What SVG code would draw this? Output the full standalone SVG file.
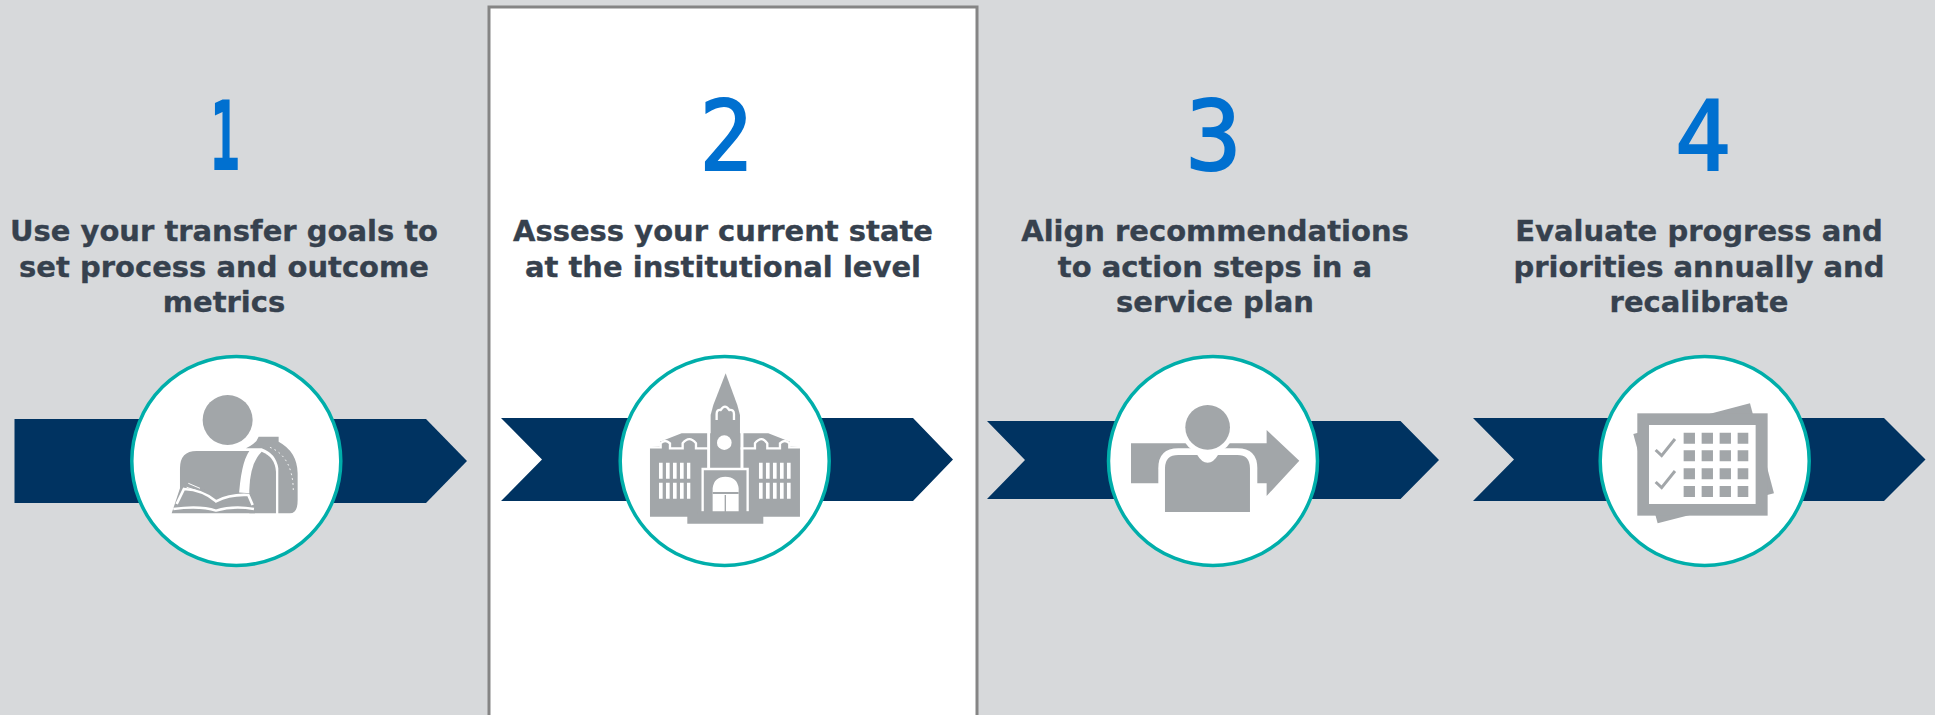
<svg xmlns="http://www.w3.org/2000/svg" width="1935" height="715" viewBox="0 0 1935 715">
<defs>
<filter id="soft" x="-5%" y="-5%" width="110%" height="110%"><feGaussianBlur stdDeviation="0.7"/></filter>
</defs>
<style>
.num{font-family:"DejaVu Sans Mono",monospace;font-size:97px;fill:#0070d0;stroke:#0070d0;stroke-width:2;text-anchor:middle}
.lbl{font-family:"DejaVu Sans",sans-serif;font-weight:700;font-size:29px;fill:#36414e;stroke:#36414e;stroke-width:.35;text-anchor:middle}
.band{fill:#003361}
.disc{fill:#fff;stroke:#00aeaa;stroke-width:3.5}
.ic{fill:#a2a6a9}
.wh{fill:#fff}
.ico{filter:url(#soft)}
</style>
<rect width="1935" height="715" fill="#d7d9db"/>
<rect id="highlight-panel" x="489" y="7" width="488" height="720" fill="#fff" stroke="#858585" stroke-width="3"/>
<g id="connectors">
<polygon class="band" points="14.5,419 426,419 467,461 426,503 14.5,503"/>
<polygon class="band" points="501,418 913,418 953,459.5 913,501 501,501 542,459.5"/>
<polygon class="band" points="987,421 1400.5,421 1439,460 1400.5,499 987,499 1025,460"/>
<polygon class="band" points="1473,418 1884,418 1925.5,459.5 1884,501 1473,501 1514,459.5"/>
</g>
<g id="step-1">
<text class="num" transform="translate(225 170) scale(.52 1)" font-weight="700" style="stroke-width:0">1</text>
<text class="lbl" x="224" y="241">Use your transfer goals to</text>
<text class="lbl" x="224" y="277">set process and outcome</text>
<text class="lbl" x="224" y="312">metrics</text>
<circle class="disc" cx="236.3" cy="461" r="104.5"/>
<g class="ico" transform="translate(0 340) scale(.3333)">
<circle class="ic" cx="683" cy="240" r="75"/>
<path class="ic" d="M540,480V385Q540,333 590,333H748Q722,370 716,480Z"/>
<path class="ic" d="M748,520V450Q750,370 785,335Q825,350 828,395V520Z"/>
<path class="ic" d="M738,325Q770,310 776,290H836V305Q892,335 893,400V480Q893,520 870,520H835V385Q828,340 785,325Z"/>
<path d="M810,322Q878,350 880,450" fill="none" stroke="#fff" stroke-width="3" stroke-dasharray="5 10"/>
<path class="ic" d="M540,445L515,520H765L750,460Z"/>
<path d="M530,492L552,447Q610,450 648,484Q690,462 745,465L758,495" fill="none" stroke="#fff" stroke-width="8"/>
<path d="M520,507Q600,496 648,512Q700,496 762,507" fill="none" stroke="#fff" stroke-width="7"/>
<path d="M565,430L600,445M560,442L590,452" fill="none" stroke="#fff" stroke-width="3"/>
</g>
</g>
<g id="step-2">
<text class="num" transform="translate(726 170) scale(.92 1)">2</text>
<text class="lbl" x="723" y="241">Assess your current state</text>
<text class="lbl" x="723" y="277">at the institutional level</text>
<circle class="disc" cx="724.7" cy="461" r="104.5"/>
<g class="ico" transform="translate(490 340) scale(.3333)">
<path class="ic" d="M480,530V322L510,318V305L575,280H835L900,305V318L930,322V530Z"/>
<path d="M480,322H512V310Q525,296 540,310V325H578V310Q598,285 618,310V325H660M930,322H898V310Q885,296 870,310V325H832V310Q815,285 795,310V325H752" fill="none" stroke="#fff" stroke-width="7"/>
<path d="M656,390V225M756,390V225" fill="none" stroke="#fff" stroke-width="9"/>
<path class="ic" d="M707,100L742,195L750,225V385H662V225L670,195Z"/>
<path d="M680,240V222Q680,208 692,210Q705,190 718,210Q732,208 732,222V240" fill="none" stroke="#fff" stroke-width="7"/>
<circle class="wh" cx="703" cy="308" r="22"/>
<rect class="ic" x="640" y="385" width="134" height="150"/>
<path d="M638,515V387H773V515" fill="none" stroke="#fff" stroke-width="7"/>
<path class="wh" d="M668,518V445Q672,410 706,410Q742,410 746,445V518H708V465H704V518Z"/>
<rect class="ic" x="668" y="456" width="78" height="6"/>
<path class="wh" d="M507,368h11v48h-11zM528,368h11v48h-11zM549,368h11v48h-11zM570,368h11v48h-11zM591,368h10v48h-10zM507,428h11v48h-11zM528,428h11v48h-11zM549,428h11v48h-11zM570,428h11v48h-11zM591,428h10v48h-10z"/>
<path class="wh" d="M807,368h11v48h-11zM828,368h11v48h-11zM849,368h11v48h-11zM870,368h11v48h-11zM891,368h11v48h-11zM807,428h11v48h-11zM828,428h11v48h-11zM849,428h11v48h-11zM870,428h11v48h-11zM891,428h11v48h-11z"/>
<path class="ic" d="M592,522H622V514H792V522H820V551H592Z"/>
</g>
</g>
<g id="step-3">
<text class="num" transform="translate(1213.5 170) scale(.96 1)">3</text>
<text class="lbl" x="1215" y="241">Align recommendations</text>
<text class="lbl" x="1215" y="277">to action steps in a</text>
<text class="lbl" x="1215" y="312">service plan</text>
<circle class="disc" cx="1213" cy="461" r="104.5"/>
<g class="ico" transform="translate(980 340) scale(.3333)">
<path class="ic" d="M453,310H860V270L958,362L860,468V430H453Z"/>
<path class="wh" d="M535,516V385Q535,325 595,325H772Q832,325 832,385V516Z"/>
<circle class="wh" cx="683" cy="262" r="82"/>
<path class="ic" d="M555,516V385Q555,345 595,345H652Q665,368 683,368Q701,368 714,345H772Q810,345 810,385V516Z"/>
<circle class="ic" cx="683" cy="262" r="67"/>
</g>
</g>
<g id="step-4">
<text class="num" transform="translate(1703 170) scale(.96 1)">4</text>
<text class="lbl" x="1699" y="241">Evaluate progress and</text>
<text class="lbl" x="1699" y="277">priorities annually and</text>
<text class="lbl" x="1699" y="312">recalibrate</text>
<circle class="disc" cx="1704.7" cy="461" r="104.5"/>
<g class="ico" transform="translate(1445 340) scale(.3333)">
<polygon class="ic" points="565,282 915,190 987,460 638,550"/>
<rect class="ic" x="577" y="220" width="391" height="307"/>
<rect class="wh" x="612" y="255" width="320" height="237"/>
<path class="ic" d="M716,278h34v33h-34zM770,278h34v33h-34zM824,278h34v33h-34zM878,278h32v33h-32zM716,331h34v33h-34zM770,331h34v33h-34zM824,331h34v33h-34zM878,331h32v33h-32zM716,385h34v33h-34zM770,385h34v33h-34zM824,385h34v33h-34zM878,385h32v33h-32zM716,438h34v33h-34zM770,438h34v33h-34zM824,438h34v33h-34zM878,438h32v33h-32z"/>
<path d="M632,330L650,347L690,297M632,426L650,443L690,393" fill="none" stroke="#a2a6a9" stroke-width="9"/>
</g>
</g>
</svg>
